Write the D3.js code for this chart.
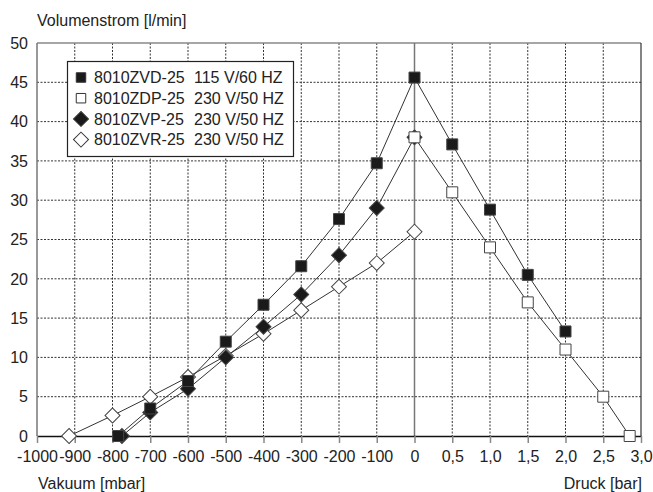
<!DOCTYPE html>
<html>
<head>
<meta charset="utf-8">
<script src="https://cdn.jsdelivr.net/npm/d3@7"></script>
<style>
  body { margin: 0; background: #fff; }
  text { font-family: "Liberation Sans", Arial, sans-serif; fill: #222; }
</style>
</head>
<body>
<div id="okvir"></div>
<script>
// x values: negative = vacuum in mbar, positive = pressure in bar
const xTicks = [-1000, -900, -800, -700, -600, -500, -400, -300, -200, -100, 0, 0.5, 1.0, 1.5, 2.0, 2.5, 3.0];
const xTickLabels = ["-1000", "-900", "-800", "-700", "-600", "-500", "-400", "-300", "-200", "-100", "0", "0,5", "1,0", "1,5", "2,0", "2,5", "3,0"];
const yTicks = [0, 5, 10, 15, 20, 25, 30, 35, 40, 45, 50];

const zvdX = [-785, -700, -600, -500, -400, -300, -200, -100, 0, 0.5, 1.0, 1.5, 2.0];
const zvdY = [0, 3.5, 7, 12, 16.7, 21.6, 27.6, 34.7, 45.6, 37.1, 28.8, 20.5, 13.3];

const zdpX = [0, 0.5, 1.0, 1.5, 2.0, 2.5, 2.85];
const zdpY = [38, 31, 24, 17, 11, 5, 0];

const zvpX = [-775, -700, -600, -500, -400, -300, -200, -100, 0];
const zvpY = [0, 3, 6, 10, 13.9, 18, 23, 29, 38];

const zvrX = [-915, -800, -700, -600, -500, -400, -300, -200, -100, 0];
const zvrY = [0, 2.6, 5, 7.5, 10.2, 13, 16, 19, 22, 26];

const serienNamen = ["8010ZVD-25", "8010ZDP-25", "8010ZVP-25", "8010ZVR-25"];
const serienSpec = ["115 V/60 HZ", "230 V/50 HZ", "230 V/50 HZ", "230 V/50 HZ"];

function crtaj() {
  const sirina = 653, visina = 492;
  const m = { left: 37, right: 641, top: 43, bottom: 436 };
  const fs = 16;

  const x = d3.scaleLinear().domain([-1000, 0, 3]).range([m.left, 414.5, m.right]);
  const y = d3.scaleLinear().domain([0, 50]).range([m.bottom, m.top]);

  const svg = d3.select("#okvir").append("svg")
    .attr("width", sirina).attr("height", visina);

  // grid
  svg.append("g").selectAll("line").data(yTicks.filter(d => d > 0 && d < 50)).join("line")
    .attr("x1", m.left).attr("x2", m.right)
    .attr("y1", d => y(d)).attr("y2", d => y(d))
    .attr("stroke", "#333").attr("stroke-width", 1).attr("stroke-dasharray", "2,1.5");
  svg.append("g").selectAll("line").data(xTicks.filter(d => d !== -1000 && d !== 0 && d !== 3)).join("line")
    .attr("x1", d => x(d)).attr("x2", d => x(d))
    .attr("y1", m.top).attr("y2", m.bottom)
    .attr("stroke", "#333").attr("stroke-width", 1).attr("stroke-dasharray", "2,1.5");

  // frame
  svg.append("line").attr("x1", m.left).attr("x2", m.right).attr("y1", m.top).attr("y2", m.top)
    .attr("stroke", "#888").attr("stroke-width", 1.5);
  svg.append("line").attr("x1", m.left).attr("x2", m.left).attr("y1", m.top).attr("y2", m.bottom)
    .attr("stroke", "#777").attr("stroke-width", 1.5);
  svg.append("line").attr("x1", m.right).attr("x2", m.right).attr("y1", m.top).attr("y2", m.bottom)
    .attr("stroke", "#333").attr("stroke-width", 1.2);
  svg.append("line").attr("x1", x(0)).attr("x2", x(0)).attr("y1", m.top).attr("y2", m.bottom)
    .attr("stroke", "#777").attr("stroke-width", 1.5);

  // x axis
  const xAxis = svg.append("g").attr("transform", `translate(0,${m.bottom})`)
    .call(d3.axisBottom(x).tickValues(xTicks).tickSize(7).tickSizeOuter(0)
      .tickFormat((d, i) => xTickLabels[i]));
  xAxis.select(".domain").attr("stroke", "#111").attr("stroke-width", 1.5);
  xAxis.selectAll(".tick line").attr("stroke", "#888").attr("stroke-width", 1.5);
  xAxis.selectAll(".tick text").attr("font-size", fs).attr("fill", "#222")
    .attr("font-family", "Liberation Sans, Arial, sans-serif").attr("dy", "0.98em");

  // y axis labels
  svg.append("g").selectAll("text").data(yTicks).join("text")
    .attr("x", 28).attr("y", d => y(d)).attr("dy", "0.36em")
    .attr("text-anchor", "end").attr("font-size", fs).text(d => d);

  svg.append("text").attr("x", 37).attr("y", 26).attr("font-size", fs).text("Volumenstrom [l/min]");
  svg.append("text").attr("x", 38).attr("y", 489).attr("font-size", fs).text("Vakuum [mbar]");
  svg.append("text").attr("x", 642).attr("y", 489).attr("text-anchor", "end").attr("font-size", fs).text("Druck [bar]");

  const square = d3.symbol().type(d3.symbolSquare).size(121);
  const diamond = d3.symbol().type(d3.symbolSquare).size(112);
  const line = d3.line().x(d => x(d[0])).y(d => y(d[1]));

  const serien = [
    { xs: zvrX, ys: zvrY, sym: diamond, rot: 45, fill: "#fff" },
    { xs: zvpX, ys: zvpY, sym: diamond, rot: 45, fill: "#1a1a1a" },
    { xs: zvdX, ys: zvdY, sym: square, rot: 0, fill: "#1a1a1a" },
    { xs: zdpX, ys: zdpY, sym: square, rot: 0, fill: "#fff" }
  ];

  serien.forEach(s => {
    const pts = s.xs.map((v, i) => [v, s.ys[i]]);
    svg.append("path").attr("d", line(pts)).attr("fill", "none")
      .attr("stroke", "#333").attr("stroke-width", 1);
  });
  serien.forEach(s => {
    const pts = s.xs.map((v, i) => [v, s.ys[i]]);
    svg.append("g").selectAll("path").data(pts).join("path")
      .attr("d", s.sym)
      .attr("transform", d => `translate(${x(d[0])},${y(d[1])}) rotate(${s.rot})`)
      .attr("fill", s.fill).attr("stroke", "#444").attr("stroke-width", 1);
  });

  // legend
  const leg = svg.append("g");
  leg.append("rect").attr("x", 67.5).attr("y", 61.5).attr("width", 226).attr("height", 95)
    .attr("fill", "#fff").attr("stroke", "#222").attr("stroke-width", 1.2);
  const legSym = [
    { sym: d3.symbol().type(d3.symbolSquare).size(90), rot: 0, fill: "#1a1a1a" },
    { sym: d3.symbol().type(d3.symbolSquare).size(90), rot: 0, fill: "#fff" },
    { sym: d3.symbol().type(d3.symbolSquare).size(112), rot: 45, fill: "#1a1a1a" },
    { sym: d3.symbol().type(d3.symbolSquare).size(112), rot: 45, fill: "#fff" }
  ];
  serienNamen.forEach((n, i) => {
    const yy = 77.5 + i * 20.7;
    leg.append("path").attr("d", legSym[i].sym)
      .attr("transform", `translate(81,${yy}) rotate(${legSym[i].rot})`)
      .attr("fill", legSym[i].fill).attr("stroke", "#333").attr("stroke-width", 1);
    leg.append("text").attr("x", 94).attr("y", yy).attr("dy", "0.36em").attr("font-size", fs).text(n);
    leg.append("text").attr("x", 194).attr("y", yy).attr("dy", "0.36em").attr("font-size", fs).text(serienSpec[i]);
  });
}

crtaj();
</script>
</body>
</html>
